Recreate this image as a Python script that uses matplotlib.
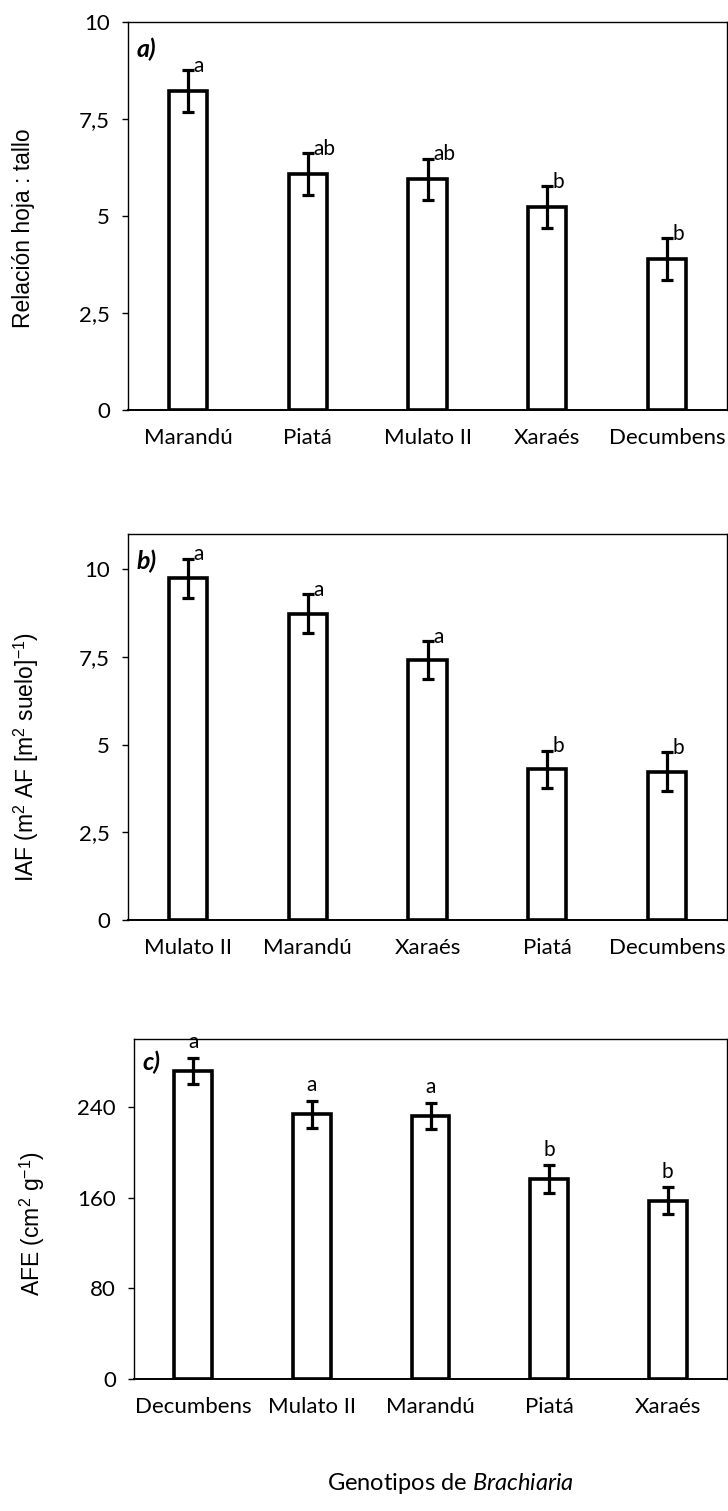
import numpy as np
import matplotlib.pyplot as plt
from matplotlib.ticker import FuncFormatter

plt.rcParams['font.family'] = ['Lato', 'DejaVu Sans']
plt.rcParams['mathtext.fontset'] = 'custom'
plt.rcParams['mathtext.rm'] = 'Liberation Sans'
plt.rcParams['mathtext.it'] = 'Lato:italic'

# panel a - relacion hoja:tallo
gen_a = ['Marandú', 'Piatá', 'Mulato II', 'Xaraés', 'Decumbens']
val_a = [8.22, 6.08, 5.95, 5.23, 3.89]
err_a = [0.54, 0.54, 0.53, 0.54, 0.54]
let_a = ['a', 'ab', 'ab', 'b', 'b']

# panel b - IAF
gen_b = ['Mulato II', 'Marandú', 'Xaraés', 'Piatá', 'Decumbens']
val_b = [9.74, 8.73, 7.40, 4.29, 4.23]
err_b = [0.55, 0.55, 0.54, 0.54, 0.55]
let_b = ['a', 'a', 'a', 'b', 'b']

# panel c - AFE
gen_c = ['Decumbens', 'Mulato II', 'Marandú', 'Piatá', 'Xaraés']
val_c = [271.6, 233.4, 231.9, 176.4, 157.3]
err_c = [11.6, 12.0, 11.7, 12.0, 11.8]
let_c = ['a', 'a', 'a', 'b', 'b']

W, H = 728, 1511
fig = plt.figure(figsize=(W / 100, H / 100), dpi=100)


def box(l, t, r, b):
    return [l / W, 1 - b / H, (r - l) / W, (b - t) / H]


comma = FuncFormatter(lambda v, p: ('%g' % v).replace('.', ','))


def panel(rect, names, vals, errs, letters, ylim, yticks, tag, letters_above):
    ax = fig.add_axes(rect)
    x = np.arange(len(names))
    ax.bar(x, vals, width=0.32, color='white', edgecolor='black', linewidth=2.6, zorder=2)
    ax.errorbar(x, vals, yerr=errs, fmt='none', ecolor='black', elinewidth=2.3,
                capsize=4, capthick=2.3, zorder=3)
    for xi, v, e, s in zip(x, vals, errs, letters):
        if letters_above:
            ax.annotate(s, (xi, v + e), xytext=(0, 4), textcoords='offset points',
                        ha='center', va='bottom', fontsize=15, annotation_clip=False)
        else:
            ax.annotate(s, (xi, v + e), xytext=(4, -4), textcoords='offset points',
                        ha='left', va='bottom', fontsize=15, annotation_clip=False)
    ax.set_xlim(-0.5, len(names) - 0.5)
    ax.set_ylim(*ylim)
    ax.set_yticks(yticks)
    ax.yaxis.set_major_formatter(comma)
    ax.set_xticks(x)
    ax.set_xticklabels(names)
    ax.tick_params(axis='x', length=0, pad=13, labelsize=16)
    ax.tick_params(axis='y', length=4, width=1, direction='out', pad=9, labelsize=16)
    for sp in ax.spines.values():
        sp.set_linewidth(1.0)
    ax.spines['bottom'].set_linewidth(1.4)
    ax.text(0.015, 0.93, tag, transform=ax.transAxes, fontsize=18,
            fontweight='bold', style='italic', ha='left', va='center')
    return ax


panel(box(128, 22, 727, 410), gen_a, val_a, err_a, let_a, (0, 10),
      [0, 2.5, 5, 7.5, 10], 'a)', False)
panel(box(128, 534, 727, 920), gen_b, val_b, err_b, let_b, (0, 11),
      [0, 2.5, 5, 7.5, 10], 'b)', False)
panel(box(134, 1039, 727, 1379), gen_c, val_c, err_c, let_c, (0, 300),
      [0, 80, 160, 240], 'c)', True)

lab = dict(rotation=90, ha='center', va='center', fontsize=16.5, family='Liberation Sans')
fig.text(24 / W, 1 - 228 / H, 'Relación hoja : tallo', **lab)
fig.text(26 / W, 1 - 757 / H, 'IAF (m$^2$ AF [m$^2$ suelo]$^{-1}$)', **lab)
fig.text(32 / W, 1 - 1224 / H, 'AFE (cm$^2$ g$^{-1}$)', **lab)

fig.text(450 / W, 1 - 1483 / H, 'Genotipos de $\\it{Brachiaria}$', ha='center',
         va='center', fontsize=17)

fig.savefig('out.png', dpi=100)
